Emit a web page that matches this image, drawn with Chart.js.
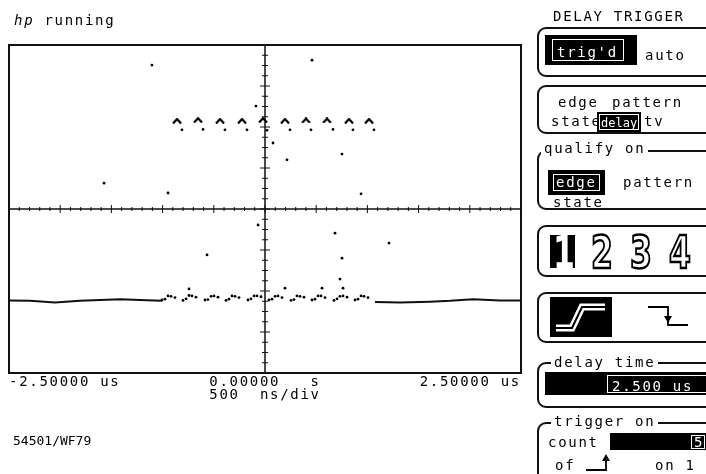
<!DOCTYPE html>
<html>
<head>
<meta charset="utf-8">
<script src="https://cdn.jsdelivr.net/npm/chart.js@4.4.1/dist/chart.umd.min.js"></script>
<style>
  body { margin: 0; background: #fff; }
  #wrap { position: relative; width: 706px; height: 474px; overflow: hidden; background: #fff; }
  #scope { position: absolute; left: 0; top: 0; }
  .t { position: absolute; font: 14px 'DejaVu Sans Mono', monospace; letter-spacing: 1.7px;
       line-height: 14px; color: #000; white-space: pre; }
  .sm { font-size: 13px; letter-spacing: 0; }
  .xs { font-size: 12px; letter-spacing: 0; }
  .w { color: #fff; }
  .box { position: absolute; left: 537px; width: 200px; box-sizing: border-box;
         border: 2px solid #111; border-radius: 9px; }
  .lg { background: #fff; padding: 0 3px; }
  .inv { position: absolute; background: #000; }
  .ol { position: absolute; box-sizing: border-box; border: 1.5px solid #fff; }
  .dig { position: absolute; font: bold 45px 'DejaVu Sans', sans-serif; line-height: 45px;
         color: #fff; -webkit-text-stroke: 2.5px #000; transform: scaleX(0.7); transform-origin: left top; }
  svg { position: absolute; }
</style>
</head>
<body>
<div id="wrap">
  <canvas id="scope" width="706" height="474"></canvas>

  <div class="t" style="left:14px;top:13px"><i>hp</i> running</div>
  <div class="t sm" style="left:13px;top:434px">54501/WF79</div>

  <div class="t" style="left:553px;top:9px">DELAY TRIGGER</div>

  <div class="box" style="top:27px;height:50px"></div>
  <div class="inv" style="left:545px;top:35px;width:92px;height:30px"></div>
  <div class="ol" style="left:552px;top:39px;width:72px;height:22px"></div>
  <div class="t w" style="left:557px;top:45px">trig'd</div>
  <div class="t" style="left:645px;top:48px">auto</div>

  <div class="box" style="top:85px;height:49px"></div>
  <div class="t" style="left:558px;top:95px">edge</div>
  <div class="t" style="left:612px;top:95px">pattern</div>
  <div class="t" style="left:551px;top:114px">state</div>
  <div class="inv" style="left:597px;top:112px;width:44px;height:20px"></div>
  <div class="ol" style="left:599px;top:114px;width:40px;height:16px"></div>
  <div class="t xs w" style="left:601px;top:116px">delay</div>
  <div class="t" style="left:644px;top:114px">tv</div>

  <div class="box" style="top:150px;height:60px"></div>
  <div class="t lg" style="left:541px;top:141px">qualify on</div>
  <div class="inv" style="left:548px;top:170px;width:57px;height:25px"></div>
  <div class="ol" style="left:553px;top:174px;width:47px;height:17px"></div>
  <div class="t w" style="left:556px;top:175px">edge</div>
  <div class="t" style="left:623px;top:175px">pattern</div>
  <div class="t" style="left:553px;top:195px">state</div>

  <div class="box" style="top:225px;height:52px"></div>
  <div class="inv" style="left:550px;top:235px;width:25px;height:33px"></div>
  <div class="dig" style="left:553px;top:230px;-webkit-text-stroke:0">1</div>
  <div class="dig" style="left:591px;top:230px">2</div>
  <div class="dig" style="left:630px;top:230px">3</div>
  <div class="dig" style="left:669px;top:230px">4</div>

  <div class="box" style="top:292px;height:51px"></div>
  <div class="inv" style="left:550px;top:297px;width:62px;height:40px"></div>
  <svg style="left:550px;top:297px" width="62" height="40">
    <polyline points="6,31 22,31 32,10 55,10" fill="none" stroke="#fff" stroke-width="7" stroke-linejoin="miter"/>
    <polyline points="6,31 22,31 32,10 55,10" fill="none" stroke="#000" stroke-width="2"/>
  </svg>
  <svg style="left:644px;top:302px" width="46" height="30">
    <polyline points="4,5 24,5 24,23 44,23" fill="none" stroke="#000" stroke-width="1.8"/>
    <polygon points="20,14 28,14 24,21" fill="#000"/>
  </svg>

  <div class="box" style="top:362px;height:46px"></div>
  <div class="t lg" style="left:551px;top:355px">delay time</div>
  <div class="inv" style="left:545px;top:372px;width:170px;height:23px"></div>
  <div class="ol" style="left:607px;top:375px;width:110px;height:18px"></div>
  <div class="t w" style="left:612px;top:379px">2.500 us</div>

  <div class="box" style="top:422px;height:80px"></div>
  <div class="t lg" style="left:551px;top:414px">trigger on</div>
  <div class="t" style="left:548px;top:435px">count</div>
  <div class="inv" style="left:610px;top:433px;width:100px;height:17px"></div>
  <div class="ol" style="left:691px;top:435px;width:14px;height:14px"></div>
  <div class="t w" style="left:694px;top:435px">5</div>
  <div class="t" style="left:555px;top:458px">of</div>
  <svg style="left:584px;top:452px" width="34" height="22">
    <polyline points="2,18 22,18 22,4" fill="none" stroke="#000" stroke-width="1.8"/>
    <polygon points="18,9 26,9 22,2" fill="#000"/>
  </svg>
  <div class="t" style="left:655px;top:458px">on 1</div>
</div>

<script>
// time axis in ns, vertical in divisions (8 divisions, 0 at centre)
var xTickValues = [-2500, 0, 2500];
var xTickLabels = ['-2.50000 us', '0.00000   s', '2.50000 us'];
var xTitle = '500  ns/div';

// upper trace: caret-shaped samples and the dots just under them
var caretTimes  = [-859, -654, -439, -225, -20, 195, 400, 605, 820, 1016];
var caretLevels = [2.15, 2.17, 2.15, 2.15, 2.17, 2.15, 2.16, 2.16, 2.15, 2.15];
var topDotTimes  = [-811, -605, -391, -176, 20, 244, 449, 664, 859, 1064];
var topDotLevels = [1.93, 1.94, 1.93, 1.93, 1.92, 1.93, 1.93, 1.94, 1.93, 1.93];
var topStrayTimes  = [78, 215, 752, 938, -947, -88, -1104, 459, -1572];
var topStrayLevels = [1.61, 1.20, 1.34, 0.37, 0.39, 2.51, 3.51, 3.63, 0.63];

// lower trace: flat parts left and right of the burst
var lowLeftTimes  = [-2500, -2295, -2051, -1807, -1611, -1406, -1221, -1006];
var lowLeftLevels = [-2.23, -2.24, -2.28, -2.24, -2.22, -2.20, -2.22, -2.24];
var lowRightTimes  = [1074, 1318, 1611, 1807, 2031, 2295, 2500];
var lowRightLevels = [-2.27, -2.28, -2.26, -2.24, -2.20, -2.23, -2.23];

// lower trace: burst samples
var burstTimes = [
  -1006, -977, -947, -918, -879,
  -801, -771, -742, -713, -674,
  -586, -557, -527, -498, -459,
  -381, -352, -322, -293, -254,
  -166, -137, -107, -78, -39,
  39, 68, 98, 127, 166,
  254, 283, 312, 342, 381,
  459, 488, 518, 547, 586,
  674, 703, 732, 762, 801,
  879, 908, 938, 967, 1006
];
var burstLevels = [
  -2.22, -2.20, -2.12, -2.13, -2.16,
  -2.23, -2.19, -2.11, -2.12, -2.15,
  -2.22, -2.21, -2.13, -2.12, -2.15,
  -2.23, -2.20, -2.12, -2.13, -2.16,
  -2.22, -2.19, -2.12, -2.12, -2.14,
  -2.22, -2.20, -2.13, -2.12, -2.16,
  -2.23, -2.21, -2.12, -2.13, -2.15,
  -2.22, -2.20, -2.12, -2.12, -2.16,
  -2.23, -2.19, -2.13, -2.12, -2.15,
  -2.22, -2.20, -2.12, -2.13, -2.16
];
var lowStrayTimes  = [-68, 684, -566, 1211, 752, 732, 762, -742, 195, 557];
var lowStrayLevels = [-0.39, -0.59, -1.12, -0.83, -1.20, -1.71, -1.93, -1.95, -1.93, -1.93];

function pts(xs, ys) {
  return xs.map(function (t, i) { return { x: t, y: ys[i] }; });
}

// little "^" marker
var caret = document.createElement('canvas');
caret.width = 10; caret.height = 6;
var cc = caret.getContext('2d');
cc.strokeStyle = '#000'; cc.lineWidth = 2.2;
cc.beginPath(); cc.moveTo(1, 5.5); cc.lineTo(5, 1.2); cc.lineTo(9, 5.5); cc.stroke();

var monoFont = { family: "'DejaVu Sans Mono', monospace", size: 14 };

// graticule: frame, centre cross and its tick marks
var graticule = {
  id: 'graticule',
  beforeDraw: function (chart) { chart.ctx.letterSpacing = '1.7px'; },
  beforeDatasetsDraw: function (chart) {
    var ctx = chart.ctx, a = chart.chartArea;
    var x = chart.scales.x, y = chart.scales.y;
    var cx = x.getPixelForValue(0), cy = y.getPixelForValue(0);
    ctx.save();
    ctx.strokeStyle = '#111';
    ctx.lineWidth = 2;
    ctx.strokeRect(a.left, a.top, a.right - a.left, a.bottom - a.top);
    ctx.lineWidth = 1.5;
    ctx.beginPath();
    ctx.moveTo(a.left, cy); ctx.lineTo(a.right, cy);
    ctx.moveTo(cx, a.top); ctx.lineTo(cx, a.bottom);
    ctx.stroke();
    ctx.lineWidth = 1;
    ctx.beginPath();
    for (var t = -2500; t <= 2500; t += 100) {
      var px = x.getPixelForValue(t);
      var h = (t % 500 === 0) ? 4 : 2;
      ctx.moveTo(px, cy - h); ctx.lineTo(px, cy + h);
    }
    for (var d = -4; d <= 4; d += 0.25) {
      var py = y.getPixelForValue(d);
      var w = (Math.abs(d % 1) < 0.01) ? 5 : 3;
      ctx.moveTo(cx - w, py); ctx.lineTo(cx + w, py);
    }
    ctx.stroke();
    ctx.restore();
  },
  afterDraw: function (chart) { chart.ctx.letterSpacing = '0px'; }
};

var dotStyle = { pointRadius: 1.4, pointBackgroundColor: '#000', pointBorderWidth: 0, showLine: false };

new Chart(document.getElementById('scope').getContext('2d'), {
  type: 'scatter',
  data: {
    datasets: [
      { data: pts(caretTimes, caretLevels), pointStyle: caret, pointRadius: 5, showLine: false },
      Object.assign({ data: pts(topDotTimes, topDotLevels) }, dotStyle),
      Object.assign({ data: pts(topStrayTimes, topStrayLevels) }, dotStyle),
      { data: pts(lowLeftTimes, lowLeftLevels), showLine: true, pointRadius: 0, borderColor: '#111', borderWidth: 2 },
      { data: pts(lowRightTimes, lowRightLevels), showLine: true, pointRadius: 0, borderColor: '#111', borderWidth: 2 },
      Object.assign({ data: pts(burstTimes, burstLevels) }, dotStyle),
      Object.assign({ data: pts(lowStrayTimes, lowStrayLevels) }, dotStyle)
    ]
  },
  options: {
    responsive: false,
    animation: false,
    devicePixelRatio: 1,
    layout: { padding: { left: 9, right: 185, top: 45, bottom: 71 } },
    plugins: { legend: { display: false }, tooltip: { enabled: false } },
    scales: {
      x: {
        type: 'linear', min: -2500, max: 2500,
        grid: { display: false },
        border: { display: false },
        afterBuildTicks: function (axis) {
          axis.ticks = xTickValues.map(function (v) { return { value: v }; });
        },
        afterFit: function (scale) { scale.height = 30; },
        ticks: {
          callback: function (v, i) { return xTickLabels[i]; },
          align: 'inner', maxRotation: 0, autoSkip: false, padding: -7,
          color: '#000', font: monoFont
        },
        title: { display: true, text: xTitle, color: '#000', font: monoFont, padding: { top: 0, bottom: -1 } }
      },
      y: { display: false, min: -4, max: 4 }
    }
  },
  plugins: [graticule]
});
</script>
</body>
</html>
